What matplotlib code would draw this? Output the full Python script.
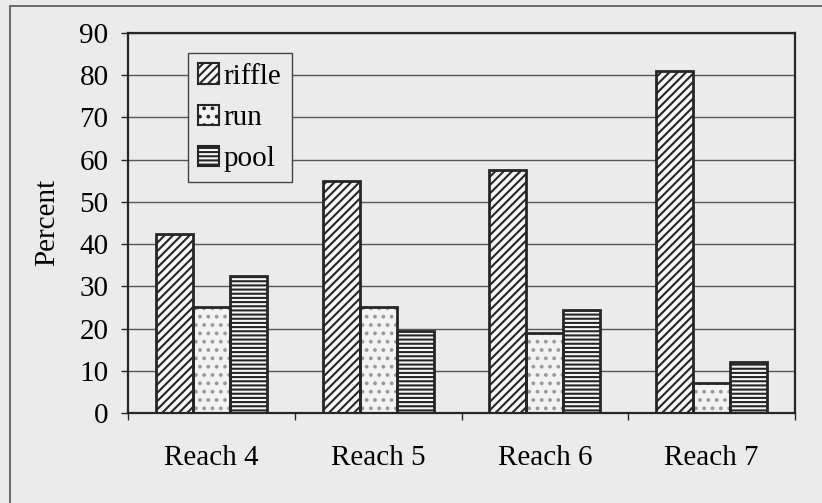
import numpy as np
import matplotlib
matplotlib.use("Agg")
import matplotlib.pyplot as plt
from matplotlib.patches import Rectangle, Patch

# Porcentaje de tipos de hábitat por tramo
reaches = ['Reach 4', 'Reach 5', 'Reach 6', 'Reach 7']
riffle = [42.5, 55.0, 57.5, 81.0]
run = [25.0, 25.0, 19.0, 7.0]
pool = [32.5, 19.5, 24.5, 12.0]
yticks = [0, 10, 20, 30, 40, 50, 60, 70, 80, 90]

bg = '#ebebeb'
dark = '#262626'
fs = 21

plt.rcParams['font.family'] = ['Liberation Serif', 'DejaVu Serif']
plt.rcParams['hatch.linewidth'] = 1.5

fig = plt.figure(figsize=(8.22, 5.03), dpi=100, facecolor=bg)
ax = fig.add_axes([128 / 822, 1 - 413 / 503, 667 / 822, 380 / 503])
ax.set_facecolor(bg)

x = np.arange(len(reaches))
w = 1 / 4.5

# Barras: relleno con trama y luego el contorno encima
ax.bar(x - w, riffle, w, color='#f7f7f7', edgecolor=dark, hatch='////', lw=0, zorder=2)
ax.bar(x, run, w, color='#f3f3f3', edgecolor='#999999', hatch='..', lw=0, zorder=2)
ax.bar(x + w, pool, w, color='#f7f7f7', edgecolor=dark, hatch='----', lw=0, zorder=2)
for off, vals in [(-w, riffle), (0, run), (w, pool)]:
    ax.bar(x + off, vals, w, fill=False, edgecolor=dark, lw=2, zorder=3)

ax.set_xlim(-0.5, len(reaches) - 0.5)
ax.set_ylim(0, 90)
ax.set_yticks(yticks)
ax.yaxis.grid(True, color='#555555', lw=1.0)
ax.set_axisbelow(True)

# marcas del eje x entre categorías, etiquetas centradas
ax.set_xticks(np.arange(len(reaches) + 1) - 0.5)
ax.set_xticklabels([])
ax.set_xticks(x, labels=reaches, minor=True)
ax.tick_params(axis='x', which='minor', length=0, pad=23, labelsize=fs)
ax.tick_params(axis='x', which='major', direction='out', length=5, width=1, color=dark)
ax.tick_params(axis='y', direction='out', length=5, width=1, color=dark, pad=9, labelsize=fs)

for s in ax.spines.values():
    s.set_color(dark)
    s.set_linewidth(1.6)

fig.text(47 / 822, 1 - 222 / 503, 'Percent', rotation=90, ha='center', va='center', fontsize=fs)

handles = [
    Patch(facecolor='#f7f7f7', edgecolor=dark, hatch='////', lw=1.5),
    Patch(facecolor='#f3f3f3', edgecolor=dark, hatch='..', lw=1.5),
    Patch(facecolor='#f7f7f7', edgecolor=dark, hatch='----', lw=1.5),
]
leg = ax.legend(handles, ['riffle', 'run', 'pool'], loc='upper left',
                bbox_to_anchor=(0.09, 0.947), borderaxespad=0, fontsize=fs,
                fancybox=False, framealpha=1, facecolor=bg, edgecolor='#444444',
                handlelength=0.72, handleheight=0.72, handletextpad=0.15,
                labelspacing=0.5, borderpad=0.35)
leg.get_frame().set_linewidth(1.0)
leg.set_zorder(5)

# marco exterior del gráfico
fig.patches.append(Rectangle((10 / 822, -0.1), 2, 1 - 6 / 503 + 0.1,
                             transform=fig.transFigure, fill=False,
                             edgecolor='#555555', lw=1.2))

fig.savefig('out.png', dpi=100, facecolor=bg)
